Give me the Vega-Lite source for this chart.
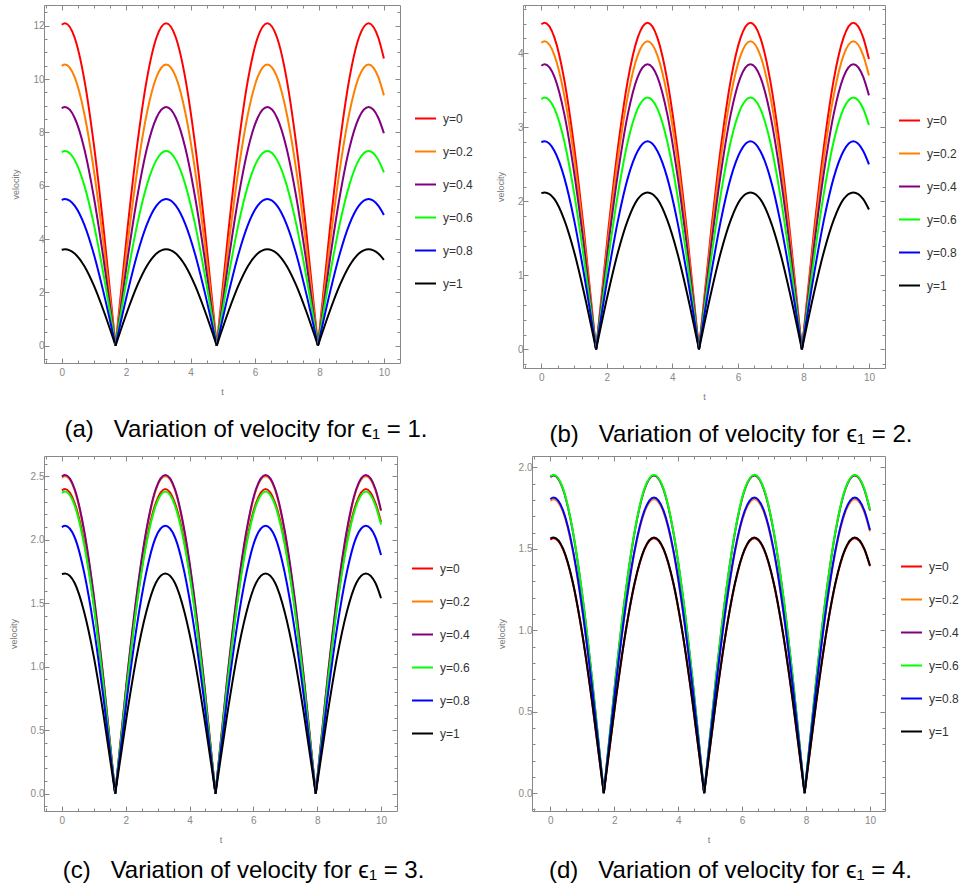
{
"$schema":"https://vega.github.io/schema/vega-lite/v6.json",
"background":"white",
"padding":{"left":8,"top":3,"right":0,"bottom":0},
"datasets":{
"a":[
{"h":1,"t":0,"r":12.04,"o":10.5,"p":8.91,"g":7.26,"b":5.47,"k":3.6},
{"h":1,"t":0.1,"r":12.1,"o":10.55,"p":8.95,"g":7.3,"b":5.5,"k":3.62},
{"h":1,"t":0.4,"r":11.56,"o":10.08,"p":8.55,"g":6.97,"b":5.25,"k":3.46},
{"h":1,"t":0.7,"r":9.99,"o":8.71,"p":7.39,"g":6.02,"b":4.54,"k":2.99},
{"h":1,"t":1,"r":7.52,"o":6.56,"p":5.56,"g":4.54,"b":3.42,"k":2.25},
{"h":1,"t":1.3,"r":4.39,"o":3.82,"p":3.24,"g":2.65,"b":1.99,"k":1.31},
{"h":1,"t":1.671,"r":0,"o":0,"p":0,"g":0,"b":0,"k":0},
{"h":2,"t":1.671,"r":0,"o":0,"p":0,"g":0,"b":0,"k":0},
{"h":2,"t":2.042,"r":4.39,"o":3.82,"p":3.24,"g":2.65,"b":1.99,"k":1.31},
{"h":2,"t":2.342,"r":7.52,"o":6.56,"p":5.56,"g":4.54,"b":3.42,"k":2.25},
{"h":2,"t":2.642,"r":9.99,"o":8.71,"p":7.39,"g":6.02,"b":4.54,"k":2.99},
{"h":2,"t":2.942,"r":11.56,"o":10.08,"p":8.55,"g":6.97,"b":5.25,"k":3.46},
{"h":2,"t":3.242,"r":12.1,"o":10.55,"p":8.95,"g":7.3,"b":5.5,"k":3.62},
{"h":2,"t":3.542,"r":11.56,"o":10.08,"p":8.55,"g":6.97,"b":5.25,"k":3.46},
{"h":2,"t":3.842,"r":9.99,"o":8.71,"p":7.39,"g":6.02,"b":4.54,"k":2.99},
{"h":2,"t":4.142,"r":7.52,"o":6.56,"p":5.56,"g":4.54,"b":3.42,"k":2.25},
{"h":2,"t":4.442,"r":4.39,"o":3.82,"p":3.24,"g":2.65,"b":1.99,"k":1.31},
{"h":2,"t":4.812,"r":0,"o":0,"p":0,"g":0,"b":0,"k":0},
{"h":3,"t":4.812,"r":0,"o":0,"p":0,"g":0,"b":0,"k":0},
{"h":3,"t":5.183,"r":4.39,"o":3.82,"p":3.24,"g":2.65,"b":1.99,"k":1.31},
{"h":3,"t":5.483,"r":7.52,"o":6.56,"p":5.56,"g":4.54,"b":3.42,"k":2.25},
{"h":3,"t":5.783,"r":9.99,"o":8.71,"p":7.39,"g":6.02,"b":4.54,"k":2.99},
{"h":3,"t":6.083,"r":11.56,"o":10.08,"p":8.55,"g":6.97,"b":5.25,"k":3.46},
{"h":3,"t":6.383,"r":12.1,"o":10.55,"p":8.95,"g":7.3,"b":5.5,"k":3.62},
{"h":3,"t":6.683,"r":11.56,"o":10.08,"p":8.55,"g":6.97,"b":5.25,"k":3.46},
{"h":3,"t":6.983,"r":9.99,"o":8.71,"p":7.39,"g":6.02,"b":4.54,"k":2.99},
{"h":3,"t":7.283,"r":7.52,"o":6.56,"p":5.56,"g":4.54,"b":3.42,"k":2.25},
{"h":3,"t":7.583,"r":4.39,"o":3.82,"p":3.24,"g":2.65,"b":1.99,"k":1.31},
{"h":3,"t":7.954,"r":0,"o":0,"p":0,"g":0,"b":0,"k":0},
{"h":4,"t":7.954,"r":0,"o":0,"p":0,"g":0,"b":0,"k":0},
{"h":4,"t":8.325,"r":4.39,"o":3.82,"p":3.24,"g":2.65,"b":1.99,"k":1.31},
{"h":4,"t":8.625,"r":7.52,"o":6.56,"p":5.56,"g":4.54,"b":3.42,"k":2.25},
{"h":4,"t":8.925,"r":9.99,"o":8.71,"p":7.39,"g":6.02,"b":4.54,"k":2.99},
{"h":4,"t":9.225,"r":11.56,"o":10.08,"p":8.55,"g":6.97,"b":5.25,"k":3.46},
{"h":4,"t":9.525,"r":12.1,"o":10.55,"p":8.95,"g":7.3,"b":5.5,"k":3.62},
{"h":4,"t":9.825,"r":11.56,"o":10.08,"p":8.55,"g":6.97,"b":5.25,"k":3.46},
{"h":4,"t":10,"r":10.77,"o":9.39,"p":7.97,"g":6.5,"b":4.9,"k":3.22}
],
"b":[
{"h":1,"t":0,"r":4.39,"o":4.14,"p":3.83,"g":3.38,"b":2.8,"k":2.11},
{"h":1,"t":0.1,"r":4.41,"o":4.16,"p":3.85,"g":3.4,"b":2.81,"k":2.12},
{"h":1,"t":0.4,"r":4.21,"o":3.97,"p":3.68,"g":3.25,"b":2.68,"k":2.03},
{"h":1,"t":0.7,"r":3.64,"o":3.43,"p":3.18,"g":2.81,"b":2.32,"k":1.75},
{"h":1,"t":1,"r":2.74,"o":2.59,"p":2.39,"g":2.11,"b":1.75,"k":1.32},
{"h":1,"t":1.3,"r":1.6,"o":1.51,"p":1.4,"g":1.23,"b":1.02,"k":0.77},
{"h":1,"t":1.671,"r":0,"o":0,"p":0,"g":0,"b":0,"k":0},
{"h":2,"t":1.671,"r":0,"o":0,"p":0,"g":0,"b":0,"k":0},
{"h":2,"t":2.042,"r":1.6,"o":1.51,"p":1.4,"g":1.23,"b":1.02,"k":0.77},
{"h":2,"t":2.342,"r":2.74,"o":2.59,"p":2.39,"g":2.11,"b":1.75,"k":1.32},
{"h":2,"t":2.642,"r":3.64,"o":3.43,"p":3.18,"g":2.81,"b":2.32,"k":1.75},
{"h":2,"t":2.942,"r":4.21,"o":3.97,"p":3.68,"g":3.25,"b":2.68,"k":2.03},
{"h":2,"t":3.242,"r":4.41,"o":4.16,"p":3.85,"g":3.4,"b":2.81,"k":2.12},
{"h":2,"t":3.542,"r":4.21,"o":3.97,"p":3.68,"g":3.25,"b":2.68,"k":2.03},
{"h":2,"t":3.842,"r":3.64,"o":3.43,"p":3.18,"g":2.81,"b":2.32,"k":1.75},
{"h":2,"t":4.142,"r":2.74,"o":2.59,"p":2.39,"g":2.11,"b":1.75,"k":1.32},
{"h":2,"t":4.442,"r":1.6,"o":1.51,"p":1.4,"g":1.23,"b":1.02,"k":0.77},
{"h":2,"t":4.812,"r":0,"o":0,"p":0,"g":0,"b":0,"k":0},
{"h":3,"t":4.812,"r":0,"o":0,"p":0,"g":0,"b":0,"k":0},
{"h":3,"t":5.183,"r":1.6,"o":1.51,"p":1.4,"g":1.23,"b":1.02,"k":0.77},
{"h":3,"t":5.483,"r":2.74,"o":2.59,"p":2.39,"g":2.11,"b":1.75,"k":1.32},
{"h":3,"t":5.783,"r":3.64,"o":3.43,"p":3.18,"g":2.81,"b":2.32,"k":1.75},
{"h":3,"t":6.083,"r":4.21,"o":3.97,"p":3.68,"g":3.25,"b":2.68,"k":2.03},
{"h":3,"t":6.383,"r":4.41,"o":4.16,"p":3.85,"g":3.4,"b":2.81,"k":2.12},
{"h":3,"t":6.683,"r":4.21,"o":3.97,"p":3.68,"g":3.25,"b":2.68,"k":2.03},
{"h":3,"t":6.983,"r":3.64,"o":3.43,"p":3.18,"g":2.81,"b":2.32,"k":1.75},
{"h":3,"t":7.283,"r":2.74,"o":2.59,"p":2.39,"g":2.11,"b":1.75,"k":1.32},
{"h":3,"t":7.583,"r":1.6,"o":1.51,"p":1.4,"g":1.23,"b":1.02,"k":0.77},
{"h":3,"t":7.954,"r":0,"o":0,"p":0,"g":0,"b":0,"k":0},
{"h":4,"t":7.954,"r":0,"o":0,"p":0,"g":0,"b":0,"k":0},
{"h":4,"t":8.325,"r":1.6,"o":1.51,"p":1.4,"g":1.23,"b":1.02,"k":0.77},
{"h":4,"t":8.625,"r":2.74,"o":2.59,"p":2.39,"g":2.11,"b":1.75,"k":1.32},
{"h":4,"t":8.925,"r":3.64,"o":3.43,"p":3.18,"g":2.81,"b":2.32,"k":1.75},
{"h":4,"t":9.225,"r":4.21,"o":3.97,"p":3.68,"g":3.25,"b":2.68,"k":2.03},
{"h":4,"t":9.525,"r":4.41,"o":4.16,"p":3.85,"g":3.4,"b":2.81,"k":2.12},
{"h":4,"t":9.825,"r":4.21,"o":3.97,"p":3.68,"g":3.25,"b":2.68,"k":2.03},
{"h":4,"t":10,"r":3.92,"o":3.7,"p":3.43,"g":3.03,"b":2.5,"k":1.89}
],
"c":[
{"h":1,"t":0,"r":2.39,"o":2.49,"p":2.5,"g":2.37,"b":2.1,"k":1.73},
{"h":1,"t":0.1,"r":2.4,"o":2.5,"p":2.51,"g":2.38,"b":2.11,"k":1.735},
{"h":1,"t":0.4,"r":2.29,"o":2.39,"p":2.4,"g":2.27,"b":2.02,"k":1.66},
{"h":1,"t":0.7,"r":1.98,"o":2.06,"p":2.07,"g":1.96,"b":1.74,"k":1.43},
{"h":1,"t":1,"r":1.49,"o":1.55,"p":1.56,"g":1.48,"b":1.31,"k":1.08},
{"h":1,"t":1.3,"r":0.87,"o":0.91,"p":0.91,"g":0.86,"b":0.76,"k":0.63},
{"h":1,"t":1.671,"r":0,"o":0,"p":0,"g":0,"b":0,"k":0},
{"h":2,"t":1.671,"r":0,"o":0,"p":0,"g":0,"b":0,"k":0},
{"h":2,"t":2.042,"r":0.87,"o":0.91,"p":0.91,"g":0.86,"b":0.76,"k":0.63},
{"h":2,"t":2.342,"r":1.49,"o":1.55,"p":1.56,"g":1.48,"b":1.31,"k":1.08},
{"h":2,"t":2.642,"r":1.98,"o":2.06,"p":2.07,"g":1.96,"b":1.74,"k":1.43},
{"h":2,"t":2.942,"r":2.29,"o":2.39,"p":2.4,"g":2.27,"b":2.02,"k":1.66},
{"h":2,"t":3.242,"r":2.4,"o":2.5,"p":2.51,"g":2.38,"b":2.11,"k":1.735},
{"h":2,"t":3.542,"r":2.29,"o":2.39,"p":2.4,"g":2.27,"b":2.02,"k":1.66},
{"h":2,"t":3.842,"r":1.98,"o":2.06,"p":2.07,"g":1.96,"b":1.74,"k":1.43},
{"h":2,"t":4.142,"r":1.49,"o":1.55,"p":1.56,"g":1.48,"b":1.31,"k":1.08},
{"h":2,"t":4.442,"r":0.87,"o":0.91,"p":0.91,"g":0.86,"b":0.76,"k":0.63},
{"h":2,"t":4.812,"r":0,"o":0,"p":0,"g":0,"b":0,"k":0},
{"h":3,"t":4.812,"r":0,"o":0,"p":0,"g":0,"b":0,"k":0},
{"h":3,"t":5.183,"r":0.87,"o":0.91,"p":0.91,"g":0.86,"b":0.76,"k":0.63},
{"h":3,"t":5.483,"r":1.49,"o":1.55,"p":1.56,"g":1.48,"b":1.31,"k":1.08},
{"h":3,"t":5.783,"r":1.98,"o":2.06,"p":2.07,"g":1.96,"b":1.74,"k":1.43},
{"h":3,"t":6.083,"r":2.29,"o":2.39,"p":2.4,"g":2.27,"b":2.02,"k":1.66},
{"h":3,"t":6.383,"r":2.4,"o":2.5,"p":2.51,"g":2.38,"b":2.11,"k":1.735},
{"h":3,"t":6.683,"r":2.29,"o":2.39,"p":2.4,"g":2.27,"b":2.02,"k":1.66},
{"h":3,"t":6.983,"r":1.98,"o":2.06,"p":2.07,"g":1.96,"b":1.74,"k":1.43},
{"h":3,"t":7.283,"r":1.49,"o":1.55,"p":1.56,"g":1.48,"b":1.31,"k":1.08},
{"h":3,"t":7.583,"r":0.87,"o":0.91,"p":0.91,"g":0.86,"b":0.76,"k":0.63},
{"h":3,"t":7.954,"r":0,"o":0,"p":0,"g":0,"b":0,"k":0},
{"h":4,"t":7.954,"r":0,"o":0,"p":0,"g":0,"b":0,"k":0},
{"h":4,"t":8.325,"r":0.87,"o":0.91,"p":0.91,"g":0.86,"b":0.76,"k":0.63},
{"h":4,"t":8.625,"r":1.49,"o":1.55,"p":1.56,"g":1.48,"b":1.31,"k":1.08},
{"h":4,"t":8.925,"r":1.98,"o":2.06,"p":2.07,"g":1.96,"b":1.74,"k":1.43},
{"h":4,"t":9.225,"r":2.29,"o":2.39,"p":2.4,"g":2.27,"b":2.02,"k":1.66},
{"h":4,"t":9.525,"r":2.4,"o":2.5,"p":2.51,"g":2.38,"b":2.11,"k":1.735},
{"h":4,"t":9.825,"r":2.29,"o":2.39,"p":2.4,"g":2.27,"b":2.02,"k":1.66},
{"h":4,"t":10,"r":2.14,"o":2.23,"p":2.23,"g":2.12,"b":1.88,"k":1.54}
],
"d":[
{"h":1,"t":0,"r":1.557,"o":1.796,"p":1.94,"g":1.945,"b":1.806,"k":1.562},
{"h":1,"t":0.1,"r":1.565,"o":1.805,"p":1.95,"g":1.955,"b":1.815,"k":1.57},
{"h":1,"t":0.4,"r":1.495,"o":1.724,"p":1.863,"g":1.868,"b":1.734,"k":1.5},
{"h":1,"t":0.7,"r":1.292,"o":1.49,"p":1.609,"g":1.613,"b":1.498,"k":1.296},
{"h":1,"t":1,"r":0.973,"o":1.122,"p":1.212,"g":1.215,"b":1.128,"k":0.976},
{"h":1,"t":1.3,"r":0.567,"o":0.654,"p":0.707,"g":0.708,"b":0.658,"k":0.569},
{"h":1,"t":1.671,"r":0,"o":0,"p":0,"g":0,"b":0,"k":0},
{"h":2,"t":1.671,"r":0,"o":0,"p":0,"g":0,"b":0,"k":0},
{"h":2,"t":2.042,"r":0.567,"o":0.654,"p":0.707,"g":0.708,"b":0.658,"k":0.569},
{"h":2,"t":2.342,"r":0.973,"o":1.122,"p":1.212,"g":1.215,"b":1.128,"k":0.976},
{"h":2,"t":2.642,"r":1.292,"o":1.49,"p":1.609,"g":1.613,"b":1.498,"k":1.296},
{"h":2,"t":2.942,"r":1.495,"o":1.724,"p":1.863,"g":1.868,"b":1.734,"k":1.5},
{"h":2,"t":3.242,"r":1.565,"o":1.805,"p":1.95,"g":1.955,"b":1.815,"k":1.57},
{"h":2,"t":3.542,"r":1.495,"o":1.724,"p":1.863,"g":1.868,"b":1.734,"k":1.5},
{"h":2,"t":3.842,"r":1.292,"o":1.49,"p":1.609,"g":1.613,"b":1.498,"k":1.296},
{"h":2,"t":4.142,"r":0.973,"o":1.122,"p":1.212,"g":1.215,"b":1.128,"k":0.976},
{"h":2,"t":4.442,"r":0.567,"o":0.654,"p":0.707,"g":0.708,"b":0.658,"k":0.569},
{"h":2,"t":4.812,"r":0,"o":0,"p":0,"g":0,"b":0,"k":0},
{"h":3,"t":4.812,"r":0,"o":0,"p":0,"g":0,"b":0,"k":0},
{"h":3,"t":5.183,"r":0.567,"o":0.654,"p":0.707,"g":0.708,"b":0.658,"k":0.569},
{"h":3,"t":5.483,"r":0.973,"o":1.122,"p":1.212,"g":1.215,"b":1.128,"k":0.976},
{"h":3,"t":5.783,"r":1.292,"o":1.49,"p":1.609,"g":1.613,"b":1.498,"k":1.296},
{"h":3,"t":6.083,"r":1.495,"o":1.724,"p":1.863,"g":1.868,"b":1.734,"k":1.5},
{"h":3,"t":6.383,"r":1.565,"o":1.805,"p":1.95,"g":1.955,"b":1.815,"k":1.57},
{"h":3,"t":6.683,"r":1.495,"o":1.724,"p":1.863,"g":1.868,"b":1.734,"k":1.5},
{"h":3,"t":6.983,"r":1.292,"o":1.49,"p":1.609,"g":1.613,"b":1.498,"k":1.296},
{"h":3,"t":7.283,"r":0.973,"o":1.122,"p":1.212,"g":1.215,"b":1.128,"k":0.976},
{"h":3,"t":7.583,"r":0.567,"o":0.654,"p":0.707,"g":0.708,"b":0.658,"k":0.569},
{"h":3,"t":7.954,"r":0,"o":0,"p":0,"g":0,"b":0,"k":0},
{"h":4,"t":7.954,"r":0,"o":0,"p":0,"g":0,"b":0,"k":0},
{"h":4,"t":8.325,"r":0.567,"o":0.654,"p":0.707,"g":0.708,"b":0.658,"k":0.569},
{"h":4,"t":8.625,"r":0.973,"o":1.122,"p":1.212,"g":1.215,"b":1.128,"k":0.976},
{"h":4,"t":8.925,"r":1.292,"o":1.49,"p":1.609,"g":1.613,"b":1.498,"k":1.296},
{"h":4,"t":9.225,"r":1.495,"o":1.724,"p":1.863,"g":1.868,"b":1.734,"k":1.5},
{"h":4,"t":9.525,"r":1.565,"o":1.805,"p":1.95,"g":1.955,"b":1.815,"k":1.57},
{"h":4,"t":9.825,"r":1.495,"o":1.724,"p":1.863,"g":1.868,"b":1.734,"k":1.5},
{"h":4,"t":10,"r":1.393,"o":1.606,"p":1.736,"g":1.74,"b":1.615,"k":1.397}
]
},
"vconcat":[
{"hconcat":[
{"width":356,"height":358,"data":{"name":"a"},
"transform":[{"fold":["r","o","p","g","b","k"],"as":["s","v"]}],
"title":{"text":"(a)\u00a0\u00a0\u00a0Variation of velocity for ϵ₁ = 1.","dx":24},
"layer":[
{"mark":{"type":"line","strokeWidth":2,"interpolate":"monotone","clip":true},
"encoding":{
"x":{"field":"t","type":"quantitative","scale":{"domain":[-0.55,10.5],"nice":false,"zero":false},
"axis":{"title":"t","values":[-0.5,0,0.5,1,1.5,2,2.5,3,3.5,4,4.5,5,5.5,6,6.5,7,7.5,8,8.5,9,9.5,10],"format":".0f","labelExpr":"abs(datum.value/2-round(datum.value/2))<0.001?datum.label:''","tickSize":{"condition":{"test":"abs(datum.value/2-round(datum.value/2))<0.001","value":-5},"value":-3}}},
"y":{"field":"v","type":"quantitative","scale":{"domain":[-0.65,12.78],"nice":false,"zero":false},
"axis":{"title":"velocity","values":[-0.5,0,0.5,1,1.5,2,2.5,3,3.5,4,4.5,5,5.5,6,6.5,7,7.5,8,8.5,9,9.5,10,10.5,11,11.5,12,12.5],"format":".0f","labelExpr":"abs(datum.value/2-round(datum.value/2))<0.001?datum.label:''","tickSize":{"condition":{"test":"abs(datum.value/2-round(datum.value/2))<0.001","value":-5},"value":-3}}},
"color":{"field":"s","type":"nominal","scale":{"domain":["r","o","p","g","b","k"],"range":["#ff0000","#ff8000","#800080","#00ff00","#0000ff","#000000"]},"legend":{"legendX":370,"legendY":102,"labelExpr":"datum.label=='r'?'y=0':datum.label=='o'?'y=0.2':datum.label=='p'?'y=0.4':datum.label=='g'?'y=0.6':datum.label=='b'?'y=0.8':'y=1'"}},
"detail":{"field":"h","type":"nominal"}}},
{"mark":{"type":"line","strokeOpacity":0},
"encoding":{
"x":{"field":"t","type":"quantitative","axis":{"orient":"top","title":null,"labels":false,"values":[-0.5,0,0.5,1,1.5,2,2.5,3,3.5,4,4.5,5,5.5,6,6.5,7,7.5,8,8.5,9,9.5,10],"tickSize":{"condition":{"test":"abs(datum.value/2-round(datum.value/2))<0.001","value":-5},"value":-3}}},
"y":{"field":"v","type":"quantitative","axis":{"orient":"right","title":null,"labels":false,"values":[-0.5,0,0.5,1,1.5,2,2.5,3,3.5,4,4.5,5,5.5,6,6.5,7,7.5,8,8.5,9,9.5,10,10.5,11,11.5,12,12.5],"tickSize":{"condition":{"test":"abs(datum.value/2-round(datum.value/2))<0.001","value":-5},"value":-3}}}}}
],
"resolve":{"axis":{"x":"independent","y":"independent"}}},
{"width":362,"height":363,"data":{"name":"b"},
"transform":[{"fold":["r","o","p","g","b","k"],"as":["s","v"]}],
"title":{"text":"(b)\u00a0\u00a0\u00a0Variation of velocity for ϵ₁ = 2.","dx":27},
"layer":[
{"mark":{"type":"line","strokeWidth":2,"interpolate":"monotone","clip":true},
"encoding":{
"x":{"field":"t","type":"quantitative","scale":{"domain":[-0.56,10.49],"nice":false,"zero":false},
"axis":{"title":"t","values":[-0.5,0,0.5,1,1.5,2,2.5,3,3.5,4,4.5,5,5.5,6,6.5,7,7.5,8,8.5,9,9.5,10],"format":".0f","labelExpr":"abs(datum.value/2-round(datum.value/2))<0.001?datum.label:''","tickSize":{"condition":{"test":"abs(datum.value/2-round(datum.value/2))<0.001","value":-5},"value":-3}}},
"y":{"field":"v","type":"quantitative","scale":{"domain":[-0.25,4.65],"nice":false,"zero":false},
"axis":{"title":"velocity","values":[-0.2,0,0.2,0.4,0.6,0.8,1,1.2,1.4,1.6,1.8,2,2.2,2.4,2.6,2.8,3,3.2,3.4,3.6,3.8,4,4.2,4.4,4.6],"format":".0f","labelExpr":"abs(datum.value-round(datum.value))<0.001?datum.label:''","tickSize":{"condition":{"test":"abs(datum.value-round(datum.value))<0.001","value":-5},"value":-3}}},
"color":{"field":"s","type":"nominal","scale":{"domain":["r","o","p","g","b","k"],"range":["#ff0000","#ff8000","#800080","#00ff00","#0000ff","#000000"]},"legend":{"legendX":375,"legendY":104,"labelExpr":"datum.label=='r'?'y=0':datum.label=='o'?'y=0.2':datum.label=='p'?'y=0.4':datum.label=='g'?'y=0.6':datum.label=='b'?'y=0.8':'y=1'"}},
"detail":{"field":"h","type":"nominal"}}},
{"mark":{"type":"line","strokeOpacity":0},
"encoding":{
"x":{"field":"t","type":"quantitative","axis":{"orient":"top","title":null,"labels":false,"values":[-0.5,0,0.5,1,1.5,2,2.5,3,3.5,4,4.5,5,5.5,6,6.5,7,7.5,8,8.5,9,9.5,10],"tickSize":{"condition":{"test":"abs(datum.value/2-round(datum.value/2))<0.001","value":-5},"value":-3}}},
"y":{"field":"v","type":"quantitative","axis":{"orient":"right","title":null,"labels":false,"values":[-0.2,0,0.2,0.4,0.6,0.8,1,1.2,1.4,1.6,1.8,2,2.2,2.4,2.6,2.8,3,3.2,3.4,3.6,3.8,4,4.2,4.4,4.6],"tickSize":{"condition":{"test":"abs(datum.value-round(datum.value))<0.001","value":-5},"value":-3}}}}}
],
"resolve":{"axis":{"x":"independent","y":"independent"}}}
],"spacing":21,"resolve":{"scale":{"color":"independent"},"legend":{"color":"independent"}}},
{"hconcat":[
{"width":353,"height":355,"data":{"name":"c"},
"transform":[{"fold":["r","o","p","g","b","k"],"as":["s","v"]}],
"title":{"text":"(c)\u00a0\u00a0\u00a0Variation of velocity for ϵ₁ = 3.","dx":23,"offset":15},
"layer":[
{"mark":{"type":"line","strokeWidth":2,"interpolate":"monotone","clip":true},
"encoding":{
"x":{"field":"t","type":"quantitative","scale":{"domain":[-0.56,10.5],"nice":false,"zero":false},
"axis":{"title":"t","values":[-0.5,0,0.5,1,1.5,2,2.5,3,3.5,4,4.5,5,5.5,6,6.5,7,7.5,8,8.5,9,9.5,10],"format":".0f","labelExpr":"abs(datum.value/2-round(datum.value/2))<0.001?datum.label:''","tickSize":{"condition":{"test":"abs(datum.value/2-round(datum.value/2))<0.001","value":-5},"value":-3}}},
"y":{"field":"v","type":"quantitative","scale":{"domain":[-0.136,2.66],"nice":false,"zero":false},
"axis":{"title":"velocity","values":[-0.1,0,0.1,0.2,0.3,0.4,0.5,0.6,0.7,0.8,0.9,1,1.1,1.2,1.3,1.4,1.5,1.6,1.7,1.8,1.9,2,2.1,2.2,2.3,2.4,2.5,2.6],"format":".1f","labelExpr":"abs(datum.value*2-round(datum.value*2))<0.001?datum.label:''","tickSize":{"condition":{"test":"abs(datum.value*2-round(datum.value*2))<0.001","value":-5},"value":-3}}},
"color":{"field":"s","type":"nominal","scale":{"domain":["r","o","p","g","b","k"],"range":["#ff0000","#ff8000","#800080","#00ff00","#0000ff","#000000"]},"legend":{"legendX":367,"legendY":101,"labelExpr":"datum.label=='r'?'y=0':datum.label=='o'?'y=0.2':datum.label=='p'?'y=0.4':datum.label=='g'?'y=0.6':datum.label=='b'?'y=0.8':'y=1'"}},
"detail":{"field":"h","type":"nominal"}}},
{"mark":{"type":"line","strokeOpacity":0},
"encoding":{
"x":{"field":"t","type":"quantitative","axis":{"orient":"top","title":null,"labels":false,"values":[-0.5,0,0.5,1,1.5,2,2.5,3,3.5,4,4.5,5,5.5,6,6.5,7,7.5,8,8.5,9,9.5,10],"tickSize":{"condition":{"test":"abs(datum.value/2-round(datum.value/2))<0.001","value":-5},"value":-3}}},
"y":{"field":"v","type":"quantitative","axis":{"orient":"right","title":null,"labels":false,"values":[-0.1,0,0.1,0.2,0.3,0.4,0.5,0.6,0.7,0.8,0.9,1,1.1,1.2,1.3,1.4,1.5,1.6,1.7,1.8,1.9,2,2.1,2.2,2.3,2.4,2.5,2.6],"tickSize":{"condition":{"test":"abs(datum.value*2-round(datum.value*2))<0.001","value":-5},"value":-3}}}}}
],
"resolve":{"axis":{"x":"independent","y":"independent"}}},
{"width":353,"height":355,"data":{"name":"d"},
"transform":[{"fold":["r","o","p","g","b","k"],"as":["s","v"]}],
"title":{"text":"(d)\u00a0\u00a0\u00a0Variation of velocity for ϵ₁ = 4.","dx":22,"offset":15},
"layer":[
{"mark":{"type":"line","strokeWidth":2,"interpolate":"monotone","clip":true},
"encoding":{
"x":{"field":"t","type":"quantitative","scale":{"domain":[-0.575,10.47],"nice":false,"zero":false},
"axis":{"title":"t","values":[-0.5,0,0.5,1,1.5,2,2.5,3,3.5,4,4.5,5,5.5,6,6.5,7,7.5,8,8.5,9,9.5,10],"format":".0f","labelExpr":"abs(datum.value/2-round(datum.value/2))<0.001?datum.label:''","tickSize":{"condition":{"test":"abs(datum.value/2-round(datum.value/2))<0.001","value":-5},"value":-3}}},
"y":{"field":"v","type":"quantitative","scale":{"domain":[-0.11,2.07],"nice":false,"zero":false},
"axis":{"title":"velocity","values":[-0.1,0,0.1,0.2,0.3,0.4,0.5,0.6,0.7,0.8,0.9,1,1.1,1.2,1.3,1.4,1.5,1.6,1.7,1.8,1.9,2],"format":".1f","labelExpr":"abs(datum.value*2-round(datum.value*2))<0.001?datum.label:''","tickSize":{"condition":{"test":"abs(datum.value*2-round(datum.value*2))<0.001","value":-5},"value":-3}}},
"color":{"field":"s","type":"nominal","scale":{"domain":["r","o","p","g","b","k"],"range":["#ff0000","#ff8000","#800080","#00ff00","#0000ff","#000000"]},"legend":{"legendX":368,"legendY":99,"labelExpr":"datum.label=='r'?'y=0':datum.label=='o'?'y=0.2':datum.label=='p'?'y=0.4':datum.label=='g'?'y=0.6':datum.label=='b'?'y=0.8':'y=1'"}},
"detail":{"field":"h","type":"nominal"}}},
{"mark":{"type":"line","strokeOpacity":0},
"encoding":{
"x":{"field":"t","type":"quantitative","axis":{"orient":"top","title":null,"labels":false,"values":[-0.5,0,0.5,1,1.5,2,2.5,3,3.5,4,4.5,5,5.5,6,6.5,7,7.5,8,8.5,9,9.5,10],"tickSize":{"condition":{"test":"abs(datum.value/2-round(datum.value/2))<0.001","value":-5},"value":-3}}},
"y":{"field":"v","type":"quantitative","axis":{"orient":"right","title":null,"labels":false,"values":[-0.1,0,0.1,0.2,0.3,0.4,0.5,0.6,0.7,0.8,0.9,1,1.1,1.2,1.3,1.4,1.5,1.6,1.7,1.8,1.9,2],"tickSize":{"condition":{"test":"abs(datum.value*2-round(datum.value*2))<0.001","value":-5},"value":-3}}}}}
],
"resolve":{"axis":{"x":"independent","y":"independent"}}}
],"spacing":25,"resolve":{"scale":{"color":"independent"},"legend":{"color":"independent"}}}
],
"spacing":7,
"resolve":{"scale":{"color":"independent"},"legend":{"color":"independent"}},
"config":{
"view":{"stroke":"#888","strokeWidth":1},
"axis":{"grid":false,"domain":false,"tickColor":"#888","labelColor":"#888","labelFont":"Liberation Sans","labelFontSize":10,"labelOverlap":false,"labelFlush":false,"titleFont":"Liberation Sans","titleFontSize":9,"titleFontWeight":"normal","titleColor":"#777"},
"axisX":{"labelPadding":9,"titlePadding":8},
"axisY":{"labelPadding":5,"titlePadding":12},
"legend":{"orient":"none","title":null,"symbolType":"stroke","symbolSize":441,"symbolStrokeWidth":2,"labelFont":"Liberation Sans","labelFontSize":12,"labelColor":"#333","rowPadding":15,"labelOffset":6,"padding":0},
"title":{"orient":"bottom","anchor":"middle","frame":"group","font":"Liberation Sans","fontSize":24,"fontWeight":"normal","color":"#000","offset":22}
}
}
